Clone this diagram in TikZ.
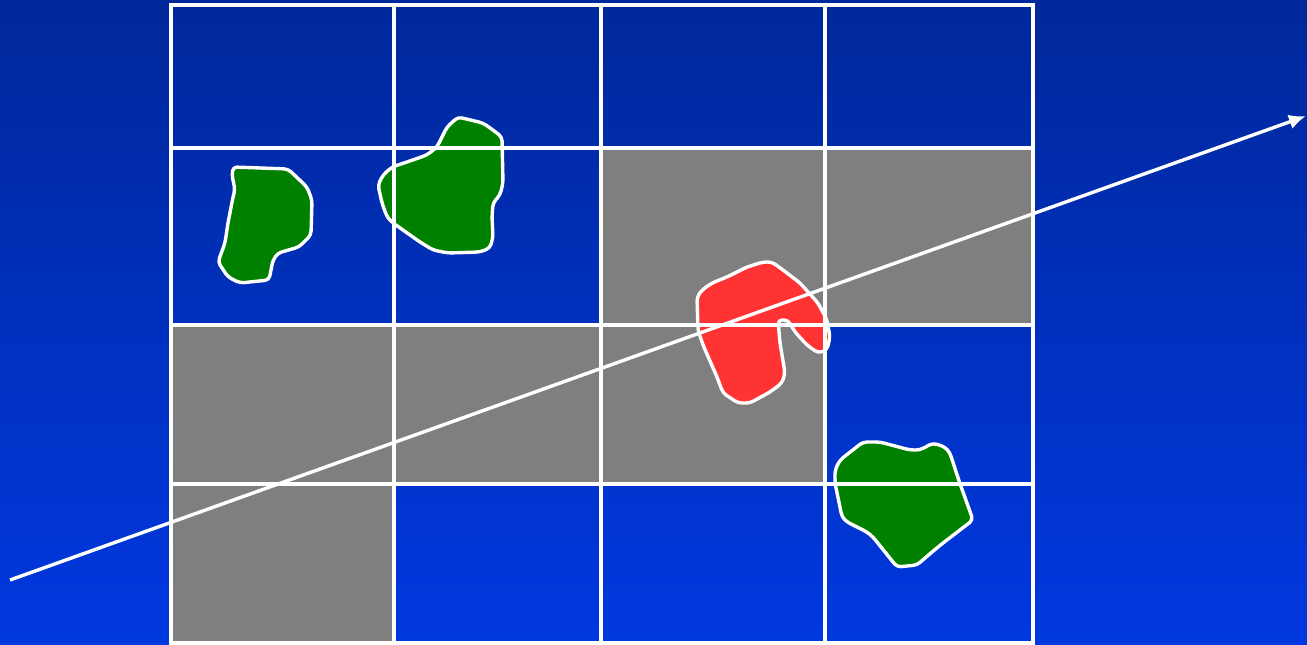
\documentclass[tikz,border=0pt]{standalone}
\usetikzlibrary{arrows.meta}
\definecolor{bgtop}{HTML}{00289A}
\definecolor{bgbot}{HTML}{0038E0}
\definecolor{cellgray}{HTML}{7F7F7F}
\definecolor{landgreen}{HTML}{008000}
\definecolor{blobred}{HTML}{FF3333}
\tikzset{
  gridline/.style={draw=white, line width=3.6pt},
  cellfill/.style={fill=cellgray},
  blob/.style={draw=white, line width=3.4pt, rounded corners=4pt, line join=round},
  ray/.style={draw=white, line width=3.4pt, -{Latex[length=17pt,width=15pt]}}
}
\begin{document}
\begin{tikzpicture}[x=1pt,y=-1pt]
\useasboundingbox (0,0) rectangle (1307,645);
\shade[top color=bgtop, bottom color=bgbot] (0,0) rectangle (1307,645);
% gray cells
\fill[cellfill] (601,148) rectangle (1033,325);
\fill[cellfill] (170,325) rectangle (825,484);
\fill[cellfill] (170,484) rectangle (394,643);
% blobs
\draw[blob, fill=landgreen] (233,167) -- (288,169) -- (307,187) -- (312,200) -- (311,235) -- (299,247) -- (278,253) -- (273,260) -- (269,280) -- (240,283) -- (228,277) -- (218,262) -- (225,243) -- (228,223) -- (233,197) -- (235,190) -- (232,175) -- cycle;
\draw[blob, fill=landgreen] (458,117) -- (483,123) -- (493,130) -- (502,137) -- (503,183) -- (500,195) -- (493,203) -- (492,217) -- (493,237) -- (490,248) -- (480,252) -- (448,253) -- (433,250) -- (420,242) -- (393,223) -- (387,217) -- (382,203) -- (378,185) -- (383,175) -- (392,167) -- (407,162) -- (427,155) -- (437,147) -- (447,127) -- cycle;
\draw[blob, fill=blobred] (772,262) -- (783,270) -- (800,283) -- (818,303) -- (827,320) -- (830,337) -- (827,350) -- (818,353) -- (807,345) -- (795,332) -- (788,320) -- (778,320) -- (780,343) -- (785,373) -- (782,383) -- (770,392) -- (750,403) -- (738,403) -- (723,393) -- (717,377) -- (703,345) -- (698,330) -- (697,297) -- (702,290) -- (712,283) -- (727,277) -- (747,267) -- (763,262) -- cycle;
\draw[blob, fill=landgreen] (863,442) -- (880,442) -- (910,450) -- (920,450) -- (933,443) -- (945,447) -- (950,453) -- (958,478) -- (973,520) -- (943,543) -- (932,552) -- (917,565) -- (897,567) -- (873,537) -- (867,532) -- (847,522) -- (842,517) -- (835,483) -- (835,470) -- (840,460) -- cycle;
% grid
\foreach \x in {171,394,601,825,1033} \draw[gridline] (\x,5) -- (\x,645);
\foreach \y in {5,148,325,484,643} \draw[gridline] (169.2,\y) -- (1034.8,\y);
% ray
\coordinate (raystart) at (10,580);
\coordinate (rayend) at (1306,116);
\draw[ray] (raystart) -- (rayend);
\end{tikzpicture}
\end{document}
